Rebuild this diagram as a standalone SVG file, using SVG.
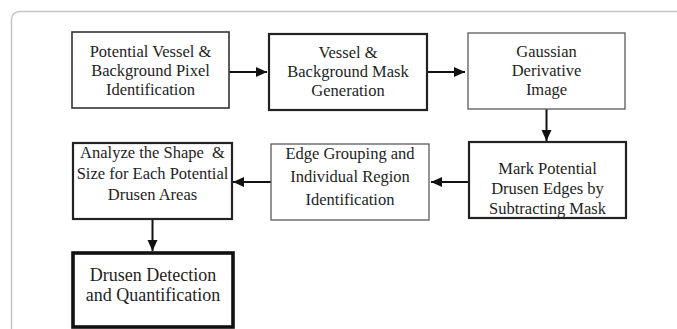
<svg xmlns="http://www.w3.org/2000/svg" width="677" height="329" viewBox="0 0 677 329">
  <style>
    .box { fill: #ffffff; }
    .thin { stroke: #5a5a5a; stroke-width: 1.3; }
    .mid { stroke: #333333; stroke-width: 1.6; }
    .bold { stroke: #222222; stroke-width: 2.2; }
    .heavy { stroke: #111111; stroke-width: 3.6; }
    .label { font-family: "Liberation Serif", "Times New Roman", serif; font-size: 16.5px; fill: #1e1e1e; text-anchor: middle; }
    .big { font-size: 18px; }
    .conn { stroke: #111111; stroke-width: 2; fill: none; marker-end: url(#arrow); }
  </style>
  <defs>
    <marker id="arrow" markerUnits="userSpaceOnUse" markerWidth="12" markerHeight="12" viewBox="0 0 12 12" refX="11" refY="6" orient="auto">
      <path d="M0,1 L11,6 L0,11 Z" fill="#111111"/>
    </marker>
  </defs>

  <!-- panel frame -->
  <rect x="11.5" y="11.5" width="700" height="340" rx="8" ry="8" fill="#ffffff" stroke="#c4c4c4" stroke-width="1.5"/>

  <g id="connectors">
    <line class="conn" x1="229" y1="72" x2="267" y2="72"/>
    <line class="conn" x1="427" y1="72" x2="465" y2="72"/>
    <line class="conn" x1="546.5" y1="109" x2="546.5" y2="141"/>
    <line class="conn" x1="469" y1="182" x2="431" y2="182"/>
    <line class="conn" x1="271" y1="182" x2="233" y2="182"/>
    <line class="conn" x1="152.5" y1="219" x2="152.5" y2="251"/>
  </g>

  <g id="pixel-identification">
    <rect class="box mid" x="72" y="32" width="157" height="76"/>
    <text class="label" x="150.5" y="57">Potential Vessel &amp;</text>
    <text class="label" x="150.5" y="76">Background Pixel</text>
    <text class="label" x="150.5" y="95">Identification</text>
  </g>

  <g id="mask-generation">
    <rect class="box bold" x="269" y="34" width="158" height="76"/>
    <text class="label" x="348" y="58">Vessel &amp;</text>
    <text class="label" x="348" y="77">Background Mask</text>
    <text class="label" x="348" y="96">Generation</text>
  </g>

  <g id="gaussian-derivative">
    <rect class="box thin" x="468" y="33" width="157" height="76"/>
    <text class="label" x="546.5" y="57">Gaussian</text>
    <text class="label" x="546.5" y="76">Derivative</text>
    <text class="label" x="546.5" y="95">Image</text>
  </g>

  <g id="mark-edges">
    <rect class="box bold" x="469" y="142" width="157" height="76"/>
    <text class="label" x="547.5" y="174">Mark Potential</text>
    <text class="label" x="547.5" y="194">Drusen Edges by</text>
    <text class="label" x="547.5" y="214">Subtracting Mask</text>
  </g>

  <g id="edge-grouping">
    <rect class="box thin" x="271" y="144" width="158" height="76"/>
    <text class="label" x="350" y="159">Edge Grouping and</text>
    <text class="label" x="350" y="182">Individual Region</text>
    <text class="label" x="350" y="205">Identification</text>
  </g>

  <g id="shape-analysis">
    <rect class="box bold" x="73" y="143" width="159" height="76"/>
    <text class="label" x="152.5" y="158" xml:space="preserve">Analyze the Shape  &amp;</text>
    <text class="label" x="152.5" y="179">Size for Each Potential</text>
    <text class="label" x="152.5" y="200">Drusen Areas</text>
  </g>

  <g id="detection-quantification">
    <rect class="box heavy" x="73" y="253" width="160" height="74"/>
    <text class="label big" x="153" y="281">Drusen Detection</text>
    <text class="label big" x="153" y="301">and Quantification</text>
  </g>
</svg>
